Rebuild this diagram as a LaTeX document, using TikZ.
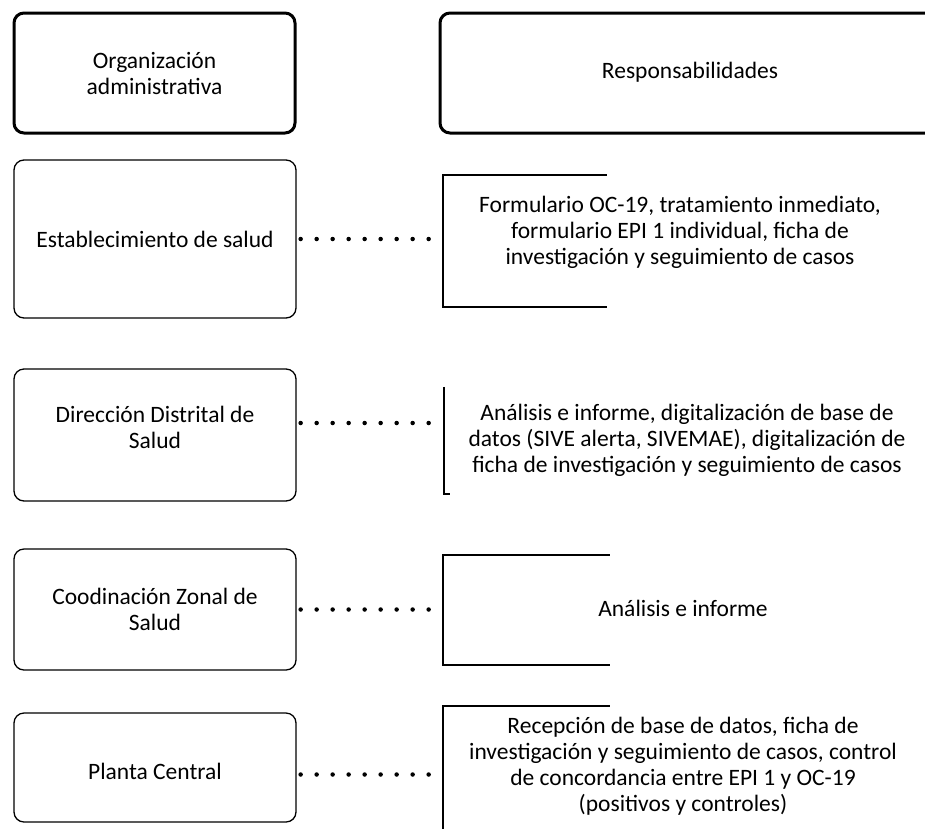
\documentclass[tikz,border=0pt]{standalone}
\usepackage{fontspec}
\setmainfont{Carlito}
\begin{document}
\begin{tikzpicture}[x=1pt,y=-1pt,
  tfont/.style={font=\fontsize{23.5}{26}\selectfont},
  hdr/.style={draw, line width=3pt, rounded corners=10pt, align=center, tfont, inner sep=0pt},
  lbox/.style={draw, line width=1.3pt, rounded corners=10pt, align=center, tfont, inner sep=0pt},
  rarea/.style={inner sep=0pt},
  txt/.style={align=center, tfont, inner sep=0pt},
  rline/.style={line width=1.5pt},
  dotline/.style={line width=4.5pt, line cap=round, dash pattern=on 0pt off 16pt}]
\useasboundingbox (0,0) rectangle (925,828);
\clip (0,0) rectangle (925,828);

% header
\node[hdr, minimum width=281pt, minimum height=120pt] (h1) at (154.5,73) {Organización\\administrativa};
\node[hdr, minimum width=510pt, minimum height=120pt] (h2) at (695,73) {};
\node[txt] (h2t) at (690,72) {Responsabilidades};

% left boxes
\node[lbox, minimum width=282pt, minimum height=158pt] (l2) at (155,239) {Establecimiento de salud};
\node[lbox, minimum width=282pt, minimum height=132pt] (l3) at (155,435) {};
\node[txt] (l3t) at ([yshift=8pt]l3.center) {Dirección Distrital de\\Salud};
\node[lbox, minimum width=282pt, minimum height=121pt] (l4) at (155,609.5) {};
\node[txt] (l4t) at ([yshift=0pt]l4.center) {Coodinación Zonal de\\Salud};
\node[lbox, minimum width=282pt, minimum height=109pt] (l5) at (155,767.5) {};
\node[txt] (l5t) at ([yshift=-4pt]l5.center) {Planta Central};

% right areas
\node[rarea, minimum width=480pt, minimum height=132pt] (r2) at (683,241) {};
\node[txt] (r2t) at (680,232) {Formulario OC-19, tratamiento inmediato,\\formulario EPI 1 individual, ficha de\\investigación y seguimiento de casos};
\node[rarea, minimum width=479pt, minimum height=107pt] (r3) at (683.5,440.5) {};
\node[txt] (r3t) at (687,440) {Análisis e informe, digitalización de base de\\datos (SIVE alerta, SIVEMAE), digitalización de\\ficha de investigación y seguimiento de casos};
\node[rarea, minimum width=480pt, minimum height=136pt] (r5) at (683,774) {};
\node[rarea, minimum width=480pt, minimum height=110pt] (r4) at (683,610) {};
\node[txt] (r4t) at (683,608) {Análisis e informe};
\node[txt] (r5t) at (683,766) {Recepción de base de datos, ficha de\\investigación y seguimiento de casos, control\\de concordancia entre EPI 1 y OC-19\\(positivos y controles)};

% brackets
\draw[rline] ([xshift=164pt]r2.north west) -- (r2.north west) -- (r2.south west) -- ([xshift=164pt]r2.south west);
\draw[rline] (r3.north west) -- (r3.south west) -- ([xshift=6pt]r3.south west);
\draw[rline] ([xshift=167pt]r4.north west) -- (r4.north west) -- (r4.south west) -- ([xshift=167pt]r4.south west);
\draw[rline] ([xshift=167pt]r5.north west) -- (r5.north west) -- (r5.south west);

% dotted connectors
\draw[dotline] ([xshift=4pt]l2.east) -- (l2.east -| r2.west);
\draw[dotline] ([xshift=4pt,yshift=12pt]l3.east) -- ([yshift=12pt]l3.east -| r3.west);
\draw[dotline] ([xshift=4pt]l4.east) -- (l4.east -| r4.west);
\draw[dotline] ([xshift=4pt,yshift=-7pt]l5.east) -- ([yshift=-7pt]l5.east -| r5.west);
\end{tikzpicture}
\end{document}
